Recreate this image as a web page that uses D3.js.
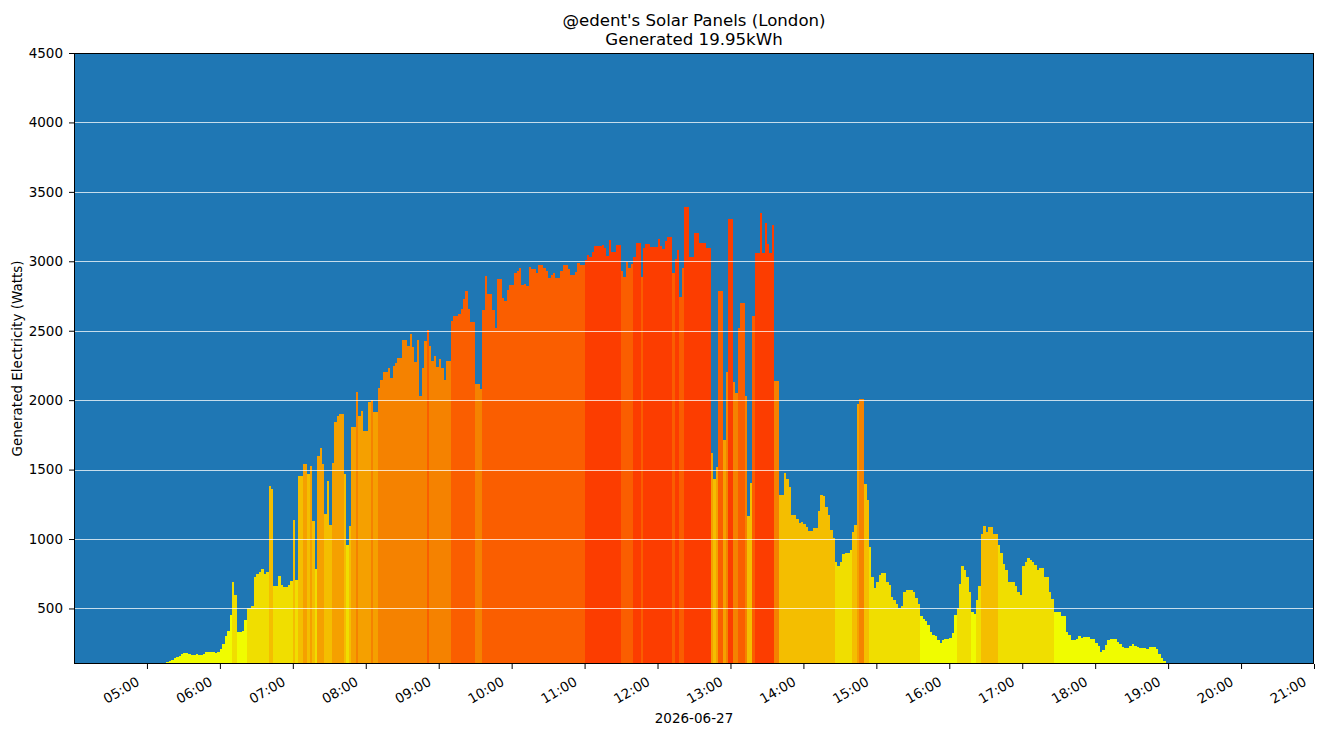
<!DOCTYPE html>
<html>
<head>
<meta charset="utf-8">
<script src="https://cdn.jsdelivr.net/npm/d3@7"></script>
<style>
body { margin: 0; background: #ffffff; }
text { font-family: "DejaVu Sans", sans-serif; fill: #000; }
</style>
</head>
<body>
<div id="chart"></div>
<script>
// Readings for the day, one every 2 minutes starting at firstReading
var day = "2026-06-27";
var firstReading = "05:14";
var readingMinutes = 2;
var watts = [
    110, 112, 120, 130, 140, 150, 160, 175, 178, 178,
    170, 168, 168, 172, 168, 166, 172, 185, 186, 186,
    186, 180, 190, 205, 245, 300, 340, 450, 690, 600,
    330, 330, 340, 420, 500, 500, 520, 730, 745, 765,
    785, 750, 760, 1380, 1359, 665, 660, 735,
    668, 652, 652, 668, 697, 1136, 704, 1453, 1453, 1539,
    1539, 1467, 1525, 1129, 783, 1597, 1654, 1539, 1179, 1417,
    1100, 1546, 1840, 1884, 1899, 1899, 1467, 956, 1093, 1805,
    1805, 2057, 1884, 1920, 1776, 1776, 1985, 2000, 1913, 1913,
    2086, 2143, 2201, 2201, 2229, 2158, 2244, 2265, 2301, 2301,
    2431, 2431, 2388, 2474, 2380, 2273, 2431, 2028, 2229, 2424,
    2503, 2388, 2280, 2316, 2237, 2294, 2229, 2143, 2280, 2280,
    2568, 2604, 2604, 2618, 2654, 2726, 2783, 2655, 2560, 2560,
    2114, 2114, 2078, 2647, 2891, 2762, 2762, 2650, 2517, 2870,
    2870, 2733, 2711, 2791, 2827, 2827, 2913, 2927, 2949, 2827,
    2834, 2819, 2956, 2942, 2942, 2913, 2970, 2970, 2949, 2927,
    2877, 2898, 2913, 2877, 2877, 2927, 2970, 2970, 2942, 2903,
    2903, 2920, 2985, 2974, 2974, 3006, 3042, 3028, 3064, 3107,
    3107, 3107, 3114, 3093, 3035, 3150, 3066, 3066, 3114, 3114,
    2927, 2884, 2992, 2949, 2978, 3032, 3132, 3132, 2884, 3093,
    3121, 3121, 3104, 3104, 3104, 3157, 3107, 3085, 3143, 3172,
    3172, 2913, 3014, 3078, 2740, 2952, 3388, 3388, 3028, 3028,
    3201, 3201, 3133, 3133, 3133, 3093, 3093, 1618, 1431, 1517,
    2783, 2783, 1711, 2201, 3301, 3301, 2129, 2050, 2517, 2697,
    2697, 2028, 1165, 1402, 2603, 3057, 3057, 3345, 3057, 3273,
    3128, 3057, 3258, 2136, 2136, 1316, 1316, 1474, 1431, 1373,
    1175, 1175, 1143, 1114, 1122, 1107, 1086, 1060, 1060, 1078,
    1078, 1201, 1320, 1309, 1229, 1172, 1064, 1006, 834, 805,
    834, 891, 902, 902, 920, 1050, 1100, 1970, 2006, 2006,
    1395, 1280, 942, 726, 647, 690, 740, 755, 755, 690,
    668, 582, 560, 532, 503, 517, 618, 632, 632, 632,
    618, 575, 532, 445, 424, 409, 380, 330, 309, 301,
    272, 251, 272, 280, 280, 287, 323, 452, 503, 676,
    805, 776, 726, 618, 474, 460, 560, 661, 1035, 1093,
    1050, 1086, 1086, 1038, 1038, 956, 898, 819, 776, 690,
    690, 690, 661, 618, 596, 805, 834, 862, 848, 834,
    812, 776, 791, 791, 726, 726, 618, 568, 474, 474,
    474, 445, 445, 330, 309, 272, 272, 280, 301, 287,
    294, 294, 294, 280, 280, 251, 229, 186, 201, 237,
    272, 280, 280, 280, 258, 244, 222, 215, 215, 229,
    244, 229, 222, 215, 215, 215, 208, 222, 222, 222,
    208, 172, 143, 122, 100
];

var yTicks = [500, 1000, 1500, 2000, 2500, 3000, 3500, 4000, 4500];
var xTickTimes = ["05:00", "06:00", "07:00", "08:00", "09:00", "10:00", "11:00", "12:00",
    "13:00", "14:00", "15:00", "16:00", "17:00", "18:00", "19:00", "20:00", "21:00"];

// Bars are coloured by 500W band
var bandLimits = [500, 1000, 1500, 2000, 2500, 3000];
var bandColours = ["#f0fc00", "#f0de00", "#f4be00", "#f5a000", "#f58200", "#fa5e00", "#fc3d00"];

var titleLines = ["@edent's Solar Panels (London)", "Generated 19.95kWh"];

var w = 1324;
var h = 736;
var margin = { top: 53, right: 10, bottom: 72, left: 74 };
var width = w - margin.left - margin.right;
var height = h - margin.top - margin.bottom;

var parseTime = d3.timeParse("%Y-%m-%d %H:%M");
var start = parseTime(day + " " + firstReading);

var dataset = watts.map(function(v, i) {
    return { time: d3.timeMinute.offset(start, i * readingMinutes), watts: v };
});

var xScale = d3.scaleTime()
    .domain([parseTime(day + " 04:00"), parseTime(day + " 21:00")])
    .range([0, width]);

var yScale = d3.scaleLinear()
    .domain([100, 4500])
    .range([height, 0]);

var colour = d3.scaleThreshold()
    .domain(bandLimits)
    .range(bandColours);

var svg = d3.select("#chart")
    .append("svg")
    .attr("width", w)
    .attr("height", h)
    .append("g")
    .attr("transform", "translate(" + margin.left + "," + margin.top + ")");

// Plot background
svg.append("rect")
    .attr("width", width)
    .attr("height", height)
    .attr("fill", "#1f77b4");

// Bars
svg.selectAll(".bar")
    .data(dataset)
    .enter()
    .append("rect")
    .attr("class", "bar")
    .attr("x", function(d) { return xScale(d.time); })
    .attr("width", function(d) {
        return xScale(d3.timeMinute.offset(d.time, readingMinutes)) - xScale(d.time);
    })
    .attr("y", function(d) { return yScale(d.watts); })
    .attr("height", function(d) { return height - yScale(d.watts); })
    .attr("fill", function(d) { return colour(d.watts); })
    .attr("shape-rendering", "crispEdges");

// Grid lines sit on top of the bars
svg.selectAll(".grid")
    .data(yTicks.slice(0, -1))
    .enter()
    .append("line")
    .attr("class", "grid")
    .attr("x1", 0)
    .attr("x2", width)
    .attr("y1", function(d) { return Math.round(yScale(d)) + 0.5; })
    .attr("y2", function(d) { return Math.round(yScale(d)) + 0.5; })
    .attr("stroke", "#ffffff")
    .attr("stroke-opacity", 0.75)
    .attr("stroke-width", 1);

// Y axis
var yAxis = svg.append("g")
    .call(d3.axisLeft(yScale)
        .tickValues(yTicks)
        .tickFormat(d3.format("d"))
        .tickSize(5)
        .tickPadding(6)
        .tickSizeOuter(0));
yAxis.select(".domain").remove();
yAxis.selectAll("text")
    .attr("font-size", 13.5)
    .attr("font-family", "DejaVu Sans, sans-serif");

// X axis
var xAxis = svg.append("g")
    .attr("transform", "translate(0," + height + ")")
    .call(d3.axisBottom(xScale)
        .tickValues(xTickTimes.map(function(t) { return parseTime(day + " " + t); }))
        .tickFormat(d3.timeFormat("%H:%M"))
        .tickSize(5)
        .tickSizeOuter(0));
xAxis.select(".domain").remove();
xAxis.selectAll("text")
    .attr("font-size", 13.5)
    .attr("font-family", "DejaVu Sans, sans-serif")
    .attr("x", 0)
    .attr("y", 0)
    .attr("dy", 0)
    .attr("text-anchor", "end")
    .attr("transform", "translate(-7,20.5) rotate(-30)");

// Frame
svg.append("rect")
    .attr("x", 0.5)
    .attr("y", 0.5)
    .attr("width", width - 1)
    .attr("height", height - 1)
    .attr("fill", "none")
    .attr("stroke", "#000")
    .attr("stroke-width", 1);

// Title
svg.selectAll(".title")
    .data(titleLines)
    .enter()
    .append("text")
    .attr("class", "title")
    .attr("x", width / 2)
    .attr("y", function(d, i) { return -27 + i * 19; })
    .attr("text-anchor", "middle")
    .style("font-size", "16.6px")
    .text(function(d) { return d; });

// Axis labels
svg.append("text")
    .attr("x", width / 2)
    .attr("y", height + 59)
    .attr("text-anchor", "middle")
    .style("font-size", "13.5px")
    .text(day);

svg.append("text")
    .attr("transform", "translate(" + (22 - margin.left) + "," + (height / 2) + ") rotate(-90)")
    .attr("text-anchor", "middle")
    .style("font-size", "13.5px")
    .text("Generated Electricity (Watts)");
</script>
</body>
</html>
